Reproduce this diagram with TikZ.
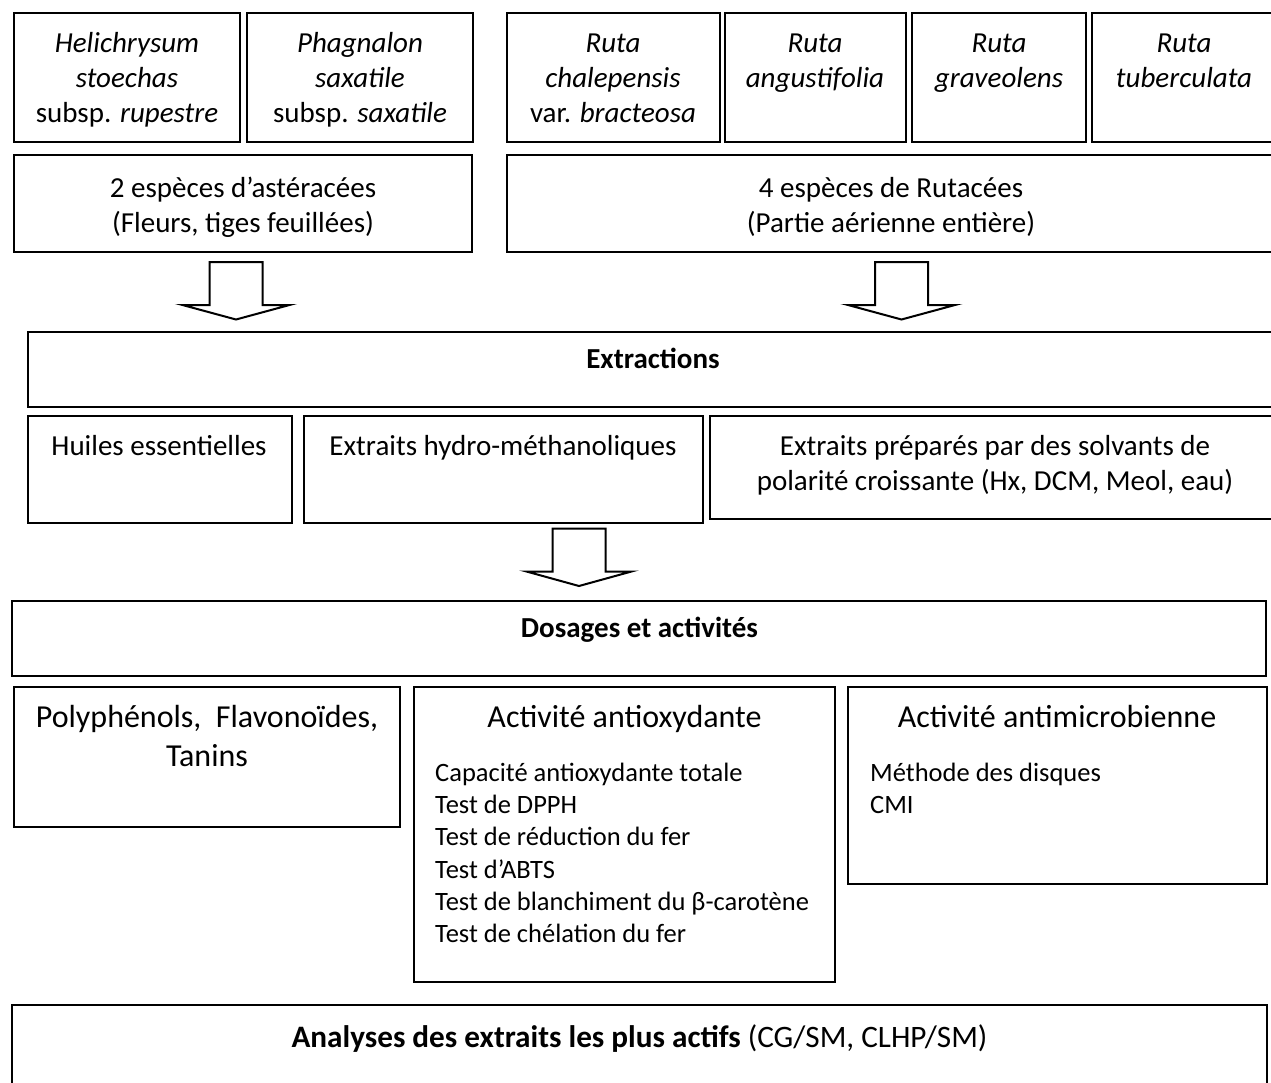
\documentclass[tikz,border=0pt]{standalone}
\usepackage{fontspec}
\setmainfont{Carlito}
\usetikzlibrary{fit}
\tikzset{
  box/.style={draw, line width=2pt, inner sep=0pt},
  fa/.style={font=\fontsize{29}{35.4}\selectfont, align=center, inner sep=0pt, anchor=north},
  fb/.style={font=\fontsize{32}{39}\selectfont, align=center, inner sep=0pt, anchor=north},
  fc/.style={font=\fontsize{31.2}{38}\selectfont, align=center, inner sep=0pt, anchor=north},
  fl/.style={font=\fontsize{26.5}{32.3}\selectfont, align=left, inner sep=0pt, anchor=north west},
  barrow/.style={draw, line width=2pt, fill=white, line join=miter},
}
\newcommand{\blockarrow}[5]{% coord, half shaft, half head, head top offset, tip offset
  \draw[barrow, shift={(#1)}] (-#2,0) -- (#2,0) -- (#2,#4) -- (#3,#4) -- (0,#5) -- (-#3,#4) -- (-#2,#4) -- cycle;}
\begin{document}
\begin{tikzpicture}[x=1pt,y=-1pt]
\useasboundingbox (0,0) rectangle (1271,1082);
\clip (0,0) rectangle (1271,1082);
% top row species boxes
\node[box, fit={(14,13) (240,142)}] (hel) {};
\node[box, fit={(247,13) (473,142)}] (pha) {};
\node[box, fit={(507,13) (720,142)}] (rch) {};
\node[box, fit={(725,13) (906,142)}] (ran) {};
\node[box, fit={(912,13) (1086,142)}] (rgr) {};
\node[box, fit={(1092,13) (1278,142)}] (rtu) {};
\node[fa] (thel) at (127,27.2) {\strut\textit{Helichrysum}\\\textit{stoechas}\\subsp. \textit{rupestre}};
\node[fa] (tpha) at (360,27.2) {\strut\textit{Phagnalon}\\\textit{saxatile}\\subsp. \textit{saxatile}};
\node[fa] (trch) at (613,27.2) {\strut\textit{Ruta}\\\textit{chalepensis}\\var. \textit{bracteosa}};
\node[fa] (tran) at (815,27.2) {\strut\textit{Ruta}\\\textit{angustifolia}};
\node[fa] (trgr) at (999,27.2) {\strut\textit{Ruta}\\\textit{graveolens}};
\node[fa] (trtu) at (1184,27.2) {\strut\textit{Ruta}\\\textit{tuberculata}};
% family boxes
\node[box, fit={(14,155) (472,252)}] (ast) {};
\node[box, fit={(507,155) (1278,252)}] (rut) {};
\node[fa] (tast) at (243,172.2) {\strut 2 espèces d’astéracées\\(Fleurs, tiges feuillées)};
\node[fa] (trut) at (891,172.2) {\strut 4 espèces de Rutacées\\(Partie aérienne entière)};
% arrows 1,2
\coordinate (a1) at (236,262);
\coordinate (a2) at (901.5,262);
\blockarrow{a1}{26.5}{53.5}{43}{57.5}
\blockarrow{a2}{26.5}{53.5}{43}{57.5}
% extractions
\node[box, fit={(28,332) (1280,407)}] (ext) {};
\node[fa] (text) at (653,343.2) {\strut\textbf{Extractions}};
\node[box, fit={(28,416) (292,523)}] (hui) {};
\node[box, fit={(304,416) (703,523)}] (hyd) {};
\node[box, fit={(710,416) (1280,519)}] (sol) {};
\node[fa] (thui) at (159,430.2) {\strut Huiles essentielles};
\node[fa] (thyd) at (503,430.2) {\strut Extraits hydro-méthanoliques};
\node[fa] (tsol) at (995,430.2) {\strut Extraits préparés par des solvants de\\polarité croissante (Hx, DCM, Meol, eau)};
% arrow 3
\coordinate (a3) at (579,528.5);
\blockarrow{a3}{26.5}{52.5}{43}{57.5}
% dosages
\node[box, fit={(12,601) (1266,676)}] (dos) {};
\node[fa] (tdos) at (639.5,612.2) {\strut\textbf{Dosages et activités}};
\node[box, fit={(14,687) (400,827)}] (pol) {};
\node[box, fit={(414,687) (835,982)}] (aox) {};
\node[box, fit={(848,687) (1267,884)}] (amb) {};
\node[fb] (tpol) at (207,699.7) {\strut Polyphénols,~ Flavonoïdes,\\Tanins};
\node[fb] (taox) at (624.5,699.7) {\strut Activité antioxydante};
\node[fb] (tamb) at (1057,699.7) {\strut Activité antimicrobienne};
\node[fl] (laox) at (435,758.4) {\strut Capacité antioxydante totale\\Test de DPPH\\Test de réduction du fer\\Test d’ABTS\\Test de blanchiment du β-carotène\\Test de chélation du fer};
\node[fl] (lamb) at (870,758.4) {\strut Méthode des disques\\CMI};
% analyses
\node[box, fit={(12,1005) (1267,1100)}] (ana) {};
\node[fc] (tana) at (639.5,1020.4) {\strut\textbf{Analyses des extraits les plus actifs} (CG/SM, CLHP/SM)};
\end{tikzpicture}
\end{document}
